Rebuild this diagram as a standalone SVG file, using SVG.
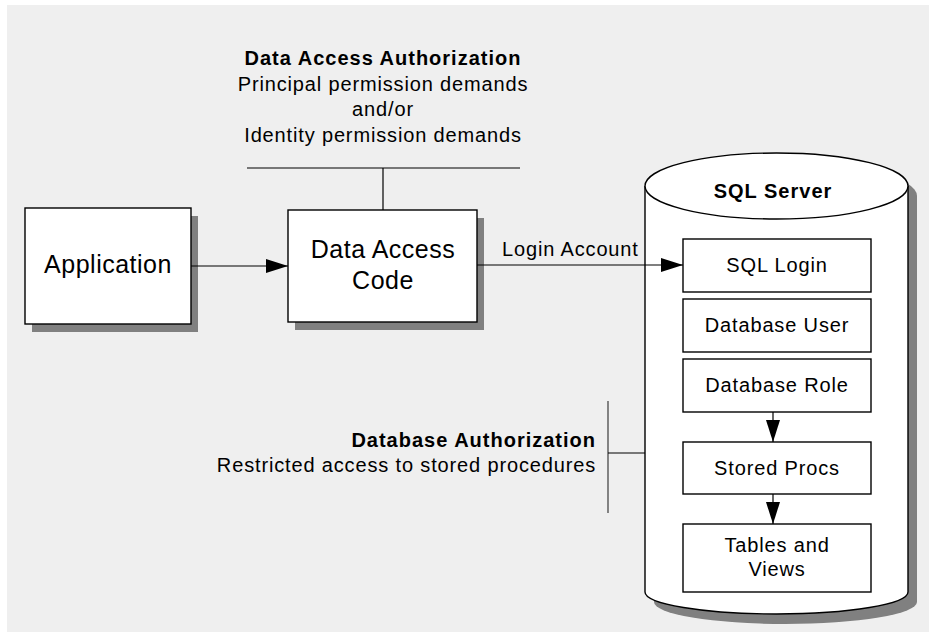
<svg xmlns="http://www.w3.org/2000/svg" width="936" height="637" viewBox="0 0 936 637">
<defs>
<style>
.bg{fill:#efefef}
.box{fill:#fff;stroke:#000;stroke-width:1.4}
.shadow{fill:#808080}
.t{font-family:"Liberation Sans",Arial,sans-serif;font-size:20px;letter-spacing:0.85px;fill:#000}
.tb{font-family:"Liberation Sans",Arial,sans-serif;font-size:20px;font-weight:bold;letter-spacing:1px;fill:#000}
.tl{font-family:"Liberation Sans",Arial,sans-serif;font-size:25px;letter-spacing:0.5px;fill:#000}
.c{text-anchor:middle}
.r{text-anchor:end}
.ln{stroke:#000;stroke-width:1.2;fill:none}
.gl{stroke:#555;stroke-width:1.4;fill:none}
</style>
<marker id="ah" markerUnits="userSpaceOnUse" markerWidth="22" markerHeight="14" refX="22" refY="7" orient="auto" viewBox="0 0 22 14">
<path d="M0,0 L22,7 L0,14 Z" fill="#000"/>
</marker>
</defs>
<rect class="bg" x="7" y="5" width="922" height="627"/>

<g id="annotation-data-access">
<text class="tb c" x="383" y="65">Data Access Authorization</text>
<text class="t c" x="383" y="91">Principal permission demands</text>
<text class="t c" x="383" y="116">and/or</text>
<text class="t c" x="383" y="142">Identity permission demands</text>
</g>

<g id="annotation-database">
<text class="tb r" x="596" y="447">Database Authorization</text>
<text class="t r" x="596" y="472">Restricted access to stored procedures</text>
</g>

<g id="application">
<rect class="shadow" x="32" y="216" width="166" height="116"/>
<rect class="box" x="25" y="208" width="166" height="116"/>
<text class="tl c" x="108" y="273">Application</text>
</g>

<g id="data-access-code">
<rect class="shadow" x="295" y="218" width="189" height="112"/>
<rect class="box" x="288" y="210" width="189" height="112"/>
<text class="tl c" x="383" y="258">Data Access</text>
<text class="tl c" x="383" y="289">Code</text>
</g>

<g id="sql-server">
<path class="shadow" d="M654,196 L654,602 A131.5,22 0 0 0 917,602 L917,196 A131.5,33 0 0 0 654,196 Z"/>
<path class="box" d="M645,186 L645,592 A131.5,22 0 0 0 908,592 L908,186"/>
<ellipse class="box" cx="776.5" cy="186" rx="131.5" ry="33"/>
<text class="tb c" x="773" y="198">SQL Server</text>
</g>

<g id="sql-login">
<rect class="box" x="683" y="239" width="188" height="53"/>
<text class="t c" x="777" y="272">SQL Login</text>
</g>
<g id="database-user">
<rect class="box" x="683" y="299" width="188" height="53"/>
<text class="t c" x="777" y="332">Database User</text>
</g>
<g id="database-role">
<rect class="box" x="683" y="359" width="188" height="53"/>
<text class="t c" x="777" y="392">Database Role</text>
</g>
<g id="stored-procs">
<rect class="box" x="683" y="442" width="188" height="52"/>
<text class="t c" x="777" y="475">Stored Procs</text>
</g>
<g id="tables-views">
<rect class="box" x="683" y="524" width="188" height="68"/>
<text class="t c" x="777" y="552">Tables and</text>
<text class="t c" x="777" y="576">Views</text>
</g>

<g id="connectors">
<line class="ln" x1="191" y1="266" x2="288" y2="266" marker-end="url(#ah)"/>
<line class="ln" x1="477" y1="265" x2="683" y2="265" marker-end="url(#ah)"/>
<text class="t" x="502" y="256">Login Account</text>
<line class="ln" x1="247" y1="168" x2="520" y2="168"/>
<line class="ln" x1="383" y1="168" x2="383" y2="210"/>
<line class="gl" x1="608" y1="401" x2="608" y2="513"/>
<line class="ln" x1="608" y1="453" x2="645" y2="453"/>
<line class="ln" x1="773" y1="412" x2="773" y2="442" marker-end="url(#ah)"/>
<line class="ln" x1="773" y1="494" x2="773" y2="524" marker-end="url(#ah)"/>
</g>
</svg>
